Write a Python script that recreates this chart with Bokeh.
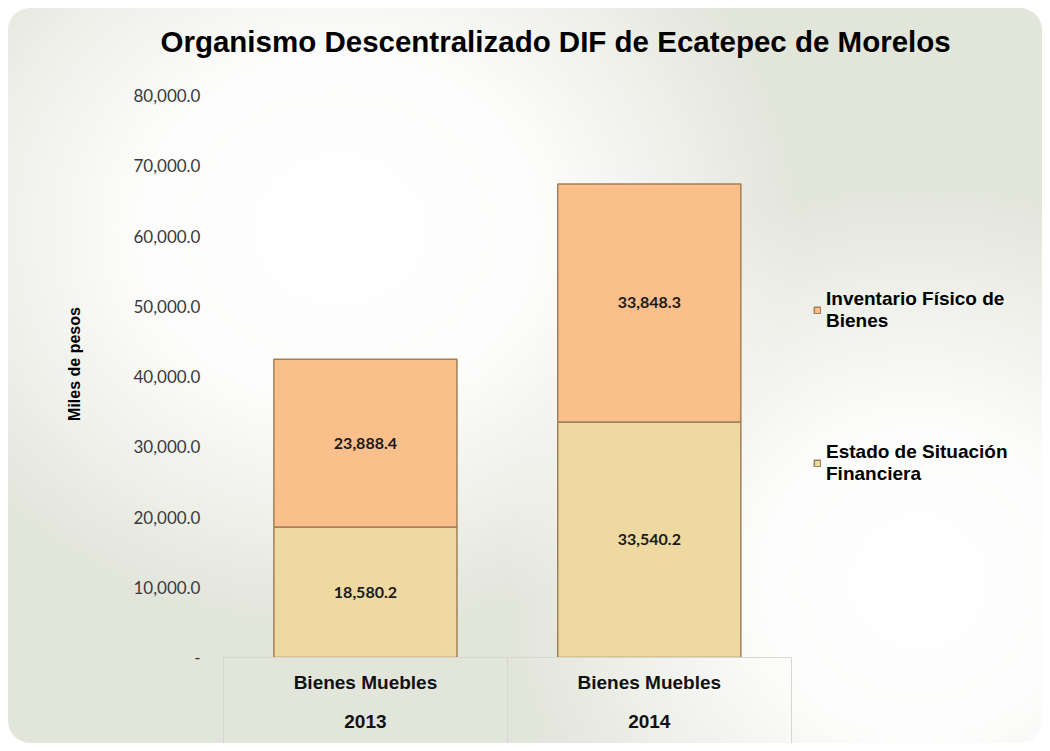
from bokeh.plotting import figure
from bokeh.models import ColumnDataSource, FixedTicker, Legend, LegendItem, Range1d
from bokeh.core.properties import value
from bokeh.embed import file_html
from bokeh.resources import INLINE

# ---------------- data ----------------
title_text = "Organismo Descentralizado DIF de Ecatepec de Morelos"
years = ["2013", "2014"]
concept = "Bienes Muebles"
estado = [18580.2, 33540.2]          # Estado de Situación Financiera
inventario = [23888.4, 33848.3]      # Inventario Físico de Bienes
estado_labels = ["18,580.2", "33,540.2"]
inventario_labels = ["23,888.4", "33,848.3"]
series_names = ["Estado de Situación\nFinanciera", "Inventario Físico de\nBienes"]
y_ticks = [0, 10000, 20000, 30000, 40000, 50000, 60000, 70000, 80000]
y_tick_labels = ["-", "10,000.0", "20,000.0", "30,000.0", "40,000.0",
                 "50,000.0", "60,000.0", "70,000.0", "80,000.0"]
y_title = "Miles de pesos"

# category slots: one unit per year, bar centred in each slot
centers = [i + 0.5 for i in range(len(years))]
edges = list(range(len(years) + 1))

source = ColumnDataSource(dict(
    x=centers,
    estado=estado,
    inventario=inventario,
    estado_mid=[e / 2 for e in estado],
    inventario_mid=[e + i / 2 for e, i in zip(estado, inventario)],
    estado_lbl=estado_labels,
    inventario_lbl=inventario_labels,
))

bg = ("radial-gradient(ellipse 45% 55% at 32% 30%, #ffffff 0%, rgba(255,255,255,0.9) 45%, rgba(255,255,255,0) 100%), "
      "radial-gradient(ellipse 40% 55% at 88% 78%, #ffffff 0%, rgba(255,255,255,0.9) 40%, rgba(255,255,255,0) 100%), "
      "#e2e5da")

p = figure(
    width=1034, height=735,
    x_range=Range1d(0, 2.857),
    y_range=Range1d(0, 83560),
    output_backend="svg", toolbar_location=None,
    min_border_left=215, min_border_right=8, min_border_top=62, min_border_bottom=86,
    background_fill_color=None, border_fill_color=None, outline_line_color=None,
    styles={"background": bg, "border-radius": "22px"},
)
p.margin = (8, 8, 8, 8)

p.title.text = title_text
p.title.align = "left"
p.title.offset = -63
p.title.standoff = 26
p.title.text_font = "Liberation Sans"
p.title.text_font_size = "29.5px"
p.title.text_font_style = "bold"
p.title.text_color = "#000000"

renderers = p.vbar_stack(
    ["estado", "inventario"], x="x", width=0.645, source=source,
    fill_color=["#eed9a1", "#fbbf8b"], line_color="#a08058", line_width=1.5,
)

# data labels
for col, lbl in (("estado_mid", "estado_lbl"), ("inventario_mid", "inventario_lbl")):
    p.text(x="x", y=col, text=lbl, source=source, text_align="center",
           text_baseline="middle", text_font=value("Lato"), text_font_style="bold",
           text_font_size="16px", text_color="#1a1a1a")

# axes
p.xgrid.grid_line_color = None
p.ygrid.grid_line_color = None

yax = p.yaxis[0]
yax.ticker = FixedTicker(ticks=y_ticks)
yax.major_label_overrides = {t: l for t, l in zip(y_ticks, y_tick_labels)}
yax.axis_line_color = None
yax.major_tick_line_color = None
yax.minor_tick_line_color = None
yax.major_label_standoff = 17
yax.major_label_text_font = "Lato"
yax.major_label_text_font_size = "17px"
yax.major_label_text_color = "#3a3a3a"
yax.axis_label = y_title
yax.axis_label_text_font = "Liberation Sans"
yax.axis_label_text_font_style = "bold"
yax.axis_label_text_font_size = "16px"
yax.axis_label_text_color = "#000000"
yax.axis_label_standoff = 47

xax = p.xaxis[0]
xax.ticker = FixedTicker(ticks=centers, minor_ticks=edges)
xax.major_label_overrides = {c: f"{concept}\n{y}" for c, y in zip(centers, years)}
xax.bounds = (edges[0], edges[-1])
xax.axis_line_color = "#d6d8d0"
xax.major_tick_line_color = None
xax.minor_tick_line_color = "#d6d8d0"
xax.minor_tick_in = 0
xax.minor_tick_out = 86
xax.major_label_text_font = "Liberation Sans"
xax.major_label_text_font_style = "bold"
xax.major_label_text_font_size = "19px"
xax.major_label_text_color = "#111111"
xax.major_label_text_line_height = 1.9
xax.major_label_text_align = "center"
xax.major_label_standoff = -72

legend = Legend(
    items=[LegendItem(label=series_names[1], renderers=[renderers[1]]),
           LegendItem(label=series_names[0], renderers=[renderers[0]])],
    location=(590, 172), orientation="vertical",
    background_fill_alpha=0, border_line_color=None,
    label_text_font="Liberation Sans", label_text_font_style="bold",
    label_text_font_size="19px", label_text_color="#000000",
    glyph_width=8, glyph_height=8, spacing=109, padding=0, margin=0,
    label_standoff=5,
)
p.add_layout(legend, "center")

open("out.html", "w").write(file_html(p, INLINE))
